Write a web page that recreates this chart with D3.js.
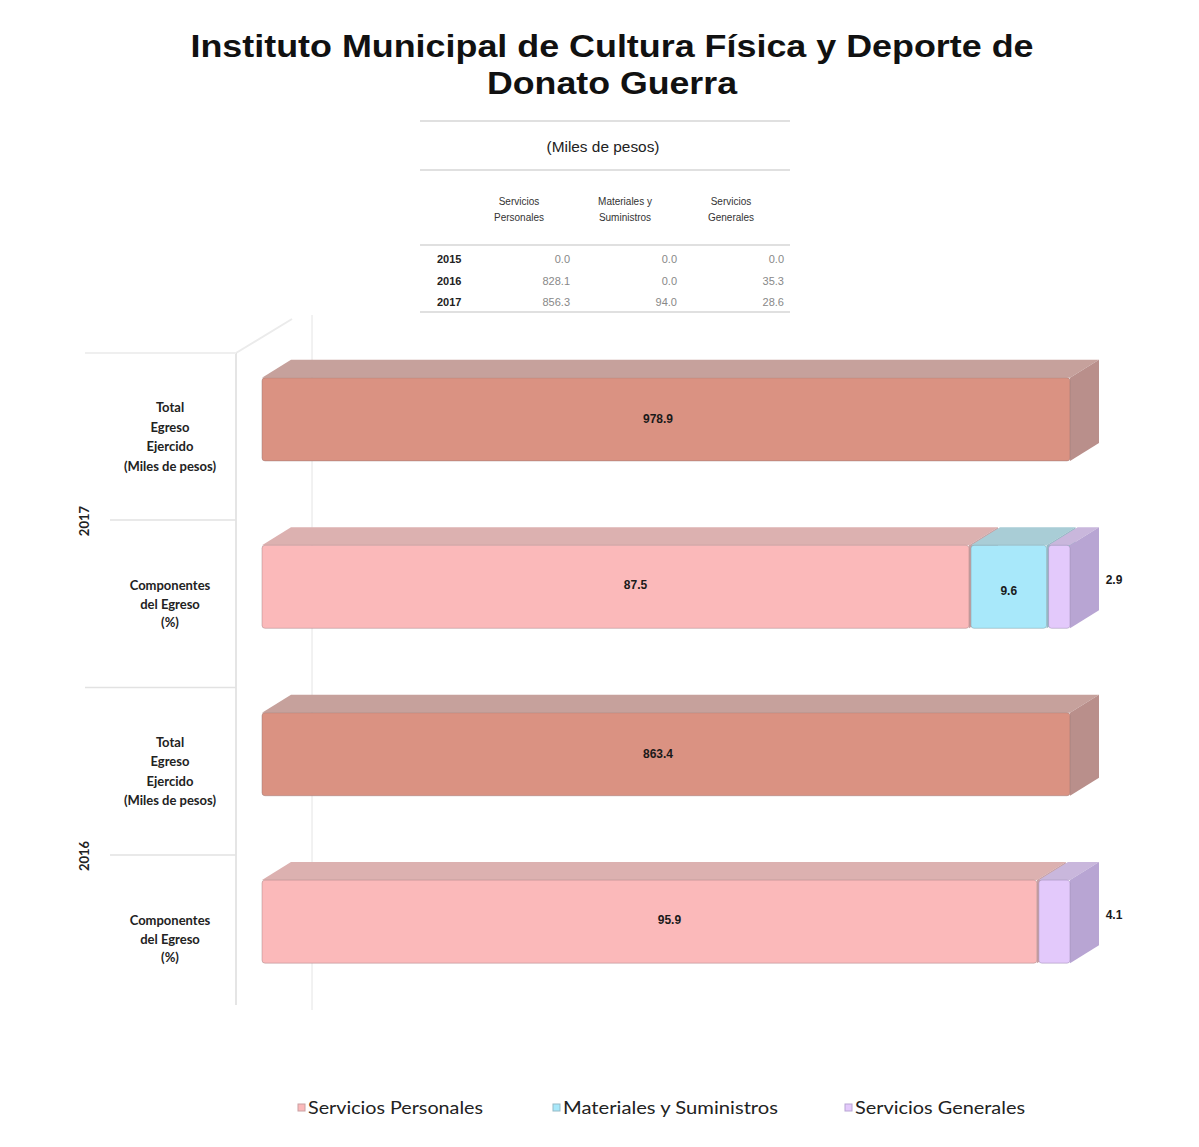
<!DOCTYPE html>
<html>
<head>
<meta charset="utf-8">
<script src="https://cdn.jsdelivr.net/npm/d3@7"></script>
<style>
  body { margin: 0; background: #fff; }
</style>
</head>
<body>
<div id="chartDIV"></div>
<script>
// ---- data
var titleLines = ["Instituto Municipal de Cultura Física y Deporte de", "Donato Guerra"]

// small table at the top (Miles de pesos)
var tableYears = ["2015", "2016", "2017"]
var tableHeads = [["Servicios", "Personales"], ["Materiales y", "Suministros"], ["Servicios", "Generales"]]
var tableSP = [0.0, 828.1, 856.3]
var tableMS = [0.0, 0.0, 94.0]
var tableSG = [0.0, 35.3, 28.6]

// bars: one group per year, total row + components row
var groupYears = ["2017", "2016"]
var totalValues = [978.9, 863.4]
var pctSP = [87.5, 95.9]
var pctMS = [9.6, 0.0]
var pctSG = [2.9, 4.1]
var seriesNames = ["Servicios Personales", "Materiales y Suministros", "Servicios Generales"]
var totalLabel = ["Total", "Egreso", "Ejercido", "(Miles de pesos)"]
var compLabel = ["Componentes", "del Egreso", "(%)"]

// ---- sizes / styles
var width = 1199
var height = 1147
var depthX = 29   // 3d offset of the bars
var depthY = 18

// colors: front, top, side
var totalColor = {front: "#da9282", top: "#c6a19c", side: "#b98f8b"}
var seriesColors = [
  {front: "#fbb9ba", top: "#dcb1b0", side: "#c9a0a2"},
  {front: "#a8e8fa", top: "#a9cdd6", side: "#95bac6"},
  {front: "#e3c9fb", top: "#c9b7dc", side: "#b8a5d3"}
]

var svg = d3.select("#chartDIV").append("svg")
  .attr("width", width)
  .attr("height", height)
  .style("font-family", "'Liberation Sans', Arial, sans-serif")

// ---- title
svg.append("text")
  .attr("x", 612).attr("y", 57)
  .attr("text-anchor", "middle")
  .attr("textLength", 843).attr("lengthAdjust", "spacingAndGlyphs")
  .style("font-size", "32px").style("font-weight", "bold").style("fill", "#111")
  .text(titleLines[0])
svg.append("text")
  .attr("x", 612).attr("y", 94)
  .attr("text-anchor", "middle")
  .attr("textLength", 250).attr("lengthAdjust", "spacingAndGlyphs")
  .style("font-size", "32px").style("font-weight", "bold").style("fill", "#111")
  .text(titleLines[1])

// ---- table
var tbl = svg.append("g")
var colX = d3.scalePoint().domain([0, 1, 2]).range([519, 731])
var valRight = d3.scalePoint().domain([0, 1, 2]).range([570, 784])
var rowY = d3.scalePoint().domain(tableYears).range([263, 306])

;[121, 170, 245, 312].forEach(function(y){
  tbl.append("line")
    .attr("x1", 420).attr("x2", 790).attr("y1", y).attr("y2", y)
    .style("stroke", "#d6d6d6").style("stroke-width", 1.5)
})
tbl.append("text")
  .attr("x", 603).attr("y", 152)
  .attr("text-anchor", "middle")
  .attr("textLength", 113).attr("lengthAdjust", "spacingAndGlyphs")
  .style("font-size", "14px").style("fill", "#222")
  .text("(Miles de pesos)")
tableHeads.forEach(function(h, i){
  h.forEach(function(line, j){
    tbl.append("text")
      .attr("x", colX(i)).attr("y", 205 + j*16)
      .attr("text-anchor", "middle")
      .style("font-size", "10px").style("fill", "#333")
      .text(line)
  })
})
tableYears.forEach(function(yr, r){
  tbl.append("text")
    .attr("x", 437).attr("y", rowY(yr))
    .style("font-size", "11px").style("font-weight", "bold").style("fill", "#222")
    .text(yr)
  ;[tableSP[r], tableMS[r], tableSG[r]].forEach(function(v, c){
    tbl.append("text")
      .attr("x", valRight(c)).attr("y", rowY(yr))
      .attr("text-anchor", "end")
      .style("font-size", "11px").style("fill", "#888")
      .text(v.toFixed(1))
  })
})

// ---- scales for the bars
var rowKeys = []
groupYears.forEach(function(yr){ rowKeys.push(yr + "-total"); rowKeys.push(yr + "-comp") })

var x = d3.scaleLinear().domain([0, 100]).range([262, 1070])
var y = d3.scaleBand().domain(rowKeys).range([336, 1005])
  .paddingInner(0.504).paddingOuter(0.25)

var plot = svg.append("g")

// back wall edges and gridline
var axisTop = y(rowKeys[0]) - y.step()*y.paddingOuter() + depthY - 1
var axisBottom = y.range()[1]
plot.append("line")
  .attr("x1", x(0) + 50).attr("x2", x(0) + 50)
  .attr("y1", axisTop - 38).attr("y2", axisBottom + 5)
  .style("stroke", "#e4e4e4").style("stroke-width", 1)
plot.append("line")
  .attr("x1", 236).attr("x2", 292)
  .attr("y1", axisTop).attr("y2", axisTop - 34)
  .style("stroke", "#ebebeb").style("stroke-width", 2)

// category axis
plot.append("line")
  .attr("x1", 236).attr("x2", 236)
  .attr("y1", axisTop).attr("y2", axisBottom)
  .style("stroke", "#dcdcdc").style("stroke-width", 1.5)
plot.append("line")
  .attr("x1", 85).attr("x2", 236)
  .attr("y1", axisTop).attr("y2", axisTop)
  .style("stroke", "#efefef").style("stroke-width", 2)
rowKeys.forEach(function(k, i){
  if (i == 0) return
  var sepY = y(k) - y.step()*y.paddingInner()/2 + depthY - 1
  plot.append("line")
    .attr("x1", i % 2 == 0 ? 85 : 110).attr("x2", 236)
    .attr("y1", sepY).attr("y2", sepY)
    .style("stroke", "#e2e2e2").style("stroke-width", 1.5)
})

// category labels (shifted down by the 3d depth, like the axis)
function writeCatLabel(lines, key){
  var mid = y(key) + y.bandwidth()/2 + depthY
  var lh = lines.length == 4 ? 19.5 : 18.5
  var start = mid - (lines.length - 1)*lh/2 + 4
  lines.forEach(function(line, j){
    plot.append("text")
      .attr("x", 170).attr("y", start + j*lh)
      .attr("text-anchor", "middle")
      .style("font-family", "Lato, 'Open Sans', sans-serif")
      .style("font-size", "13px").style("font-weight", "bold").style("fill", "#222")
      .text(line)
  })
}
groupYears.forEach(function(yr){
  writeCatLabel(totalLabel, yr + "-total")
  writeCatLabel(compLabel, yr + "-comp")
  var midY = (y(yr + "-total") + y(yr + "-comp") + y.bandwidth())/2 + depthY
  plot.append("text")
    .attr("transform", `translate(89 ${midY}) rotate(-90)`)
    .attr("text-anchor", "middle")
    .style("font-family", "Lato, 'Open Sans', sans-serif")
    .style("font-size", "13px").style("font-weight", "bold").style("fill", "#222")
    .text(yr)
})

// draw one 3d segment: top face, side face, front face
function drawSegment(x0, x1, top, col){
  var h = y.bandwidth()
  plot.append("polygon")
    .attr("points", `${x0},${top} ${x0+depthX},${top-depthY} ${x1+depthX},${top-depthY} ${x1},${top}`)
    .style("fill", col.top)
  plot.append("polygon")
    .attr("points", `${x1},${top} ${x1+depthX},${top-depthY} ${x1+depthX},${top+h-depthY} ${x1},${top+h}`)
    .style("fill", col.side)
  plot.append("rect")
    .attr("x", x0).attr("y", top)
    .attr("width", x1 - x0).attr("height", h)
    .attr("rx", 3)
    .style("fill", col.front)
    .style("stroke", d3.color(col.side).darker(0.6))
    .style("stroke-opacity", 0.45)
    .style("stroke-width", 1)
}

function writeValue(txt, px, py){
  plot.append("text")
    .attr("x", px).attr("y", py)
    .attr("text-anchor", "middle")
    .style("font-size", "12px").style("font-weight", "bold").style("fill", "#1a1a1a")
    .text(txt)
}

groupYears.forEach(function(yr, g){
  // total row: a single full-width segment
  var tTop = y(yr + "-total")
  drawSegment(x(0), x(100), tTop, totalColor)
  writeValue(totalValues[g].toFixed(1), (x(0) + x(100))/2 - 8, tTop + y.bandwidth()/2 + 4)

  // components row, stacked to 100%
  var cTop = y(yr + "-comp")
  var vals = [pctSP[g], pctMS[g], pctSG[g]]
  var acc = 0
  vals.forEach(function(v, s){
    if (v <= 0) return
    var x0 = x(acc) + (acc > 0 ? 2 : 0)
    acc += v
    var x1 = x(acc)
    drawSegment(x0, x1, cTop, seriesColors[s])
    var lx = (x0 + x1)/2
    var ly = cTop + y.bandwidth()/2
    if (x1 - x0 < 40) {
      lx = x(100) + depthX + 15
      ly = ly - 3
    } else if (s == 1) {
      ly = ly + 8
    } else {
      lx = lx + 20
      ly = ly + 2
    }
    writeValue(v.toFixed(1), lx, ly)
  })
})

// ---- legend
var legX = [298, 553, 845]
var legW = [175, 215, 170]
var legend = svg.append("g")
seriesNames.forEach(function(name, i){
  legend.append("rect")
    .attr("x", legX[i]).attr("y", 1104)
    .attr("width", 7).attr("height", 7)
    .style("fill", seriesColors[i].front)
    .style("stroke", seriesColors[i].side).style("stroke-width", 1)
  legend.append("text")
    .attr("x", legX[i] + 10).attr("y", 1114)
    .attr("textLength", legW[i]).attr("lengthAdjust", "spacingAndGlyphs")
    .style("font-family", "Lato, 'Open Sans', sans-serif")
    .style("font-size", "18px").style("fill", "#222")
    .text(name)
})
</script>
</body>
</html>
